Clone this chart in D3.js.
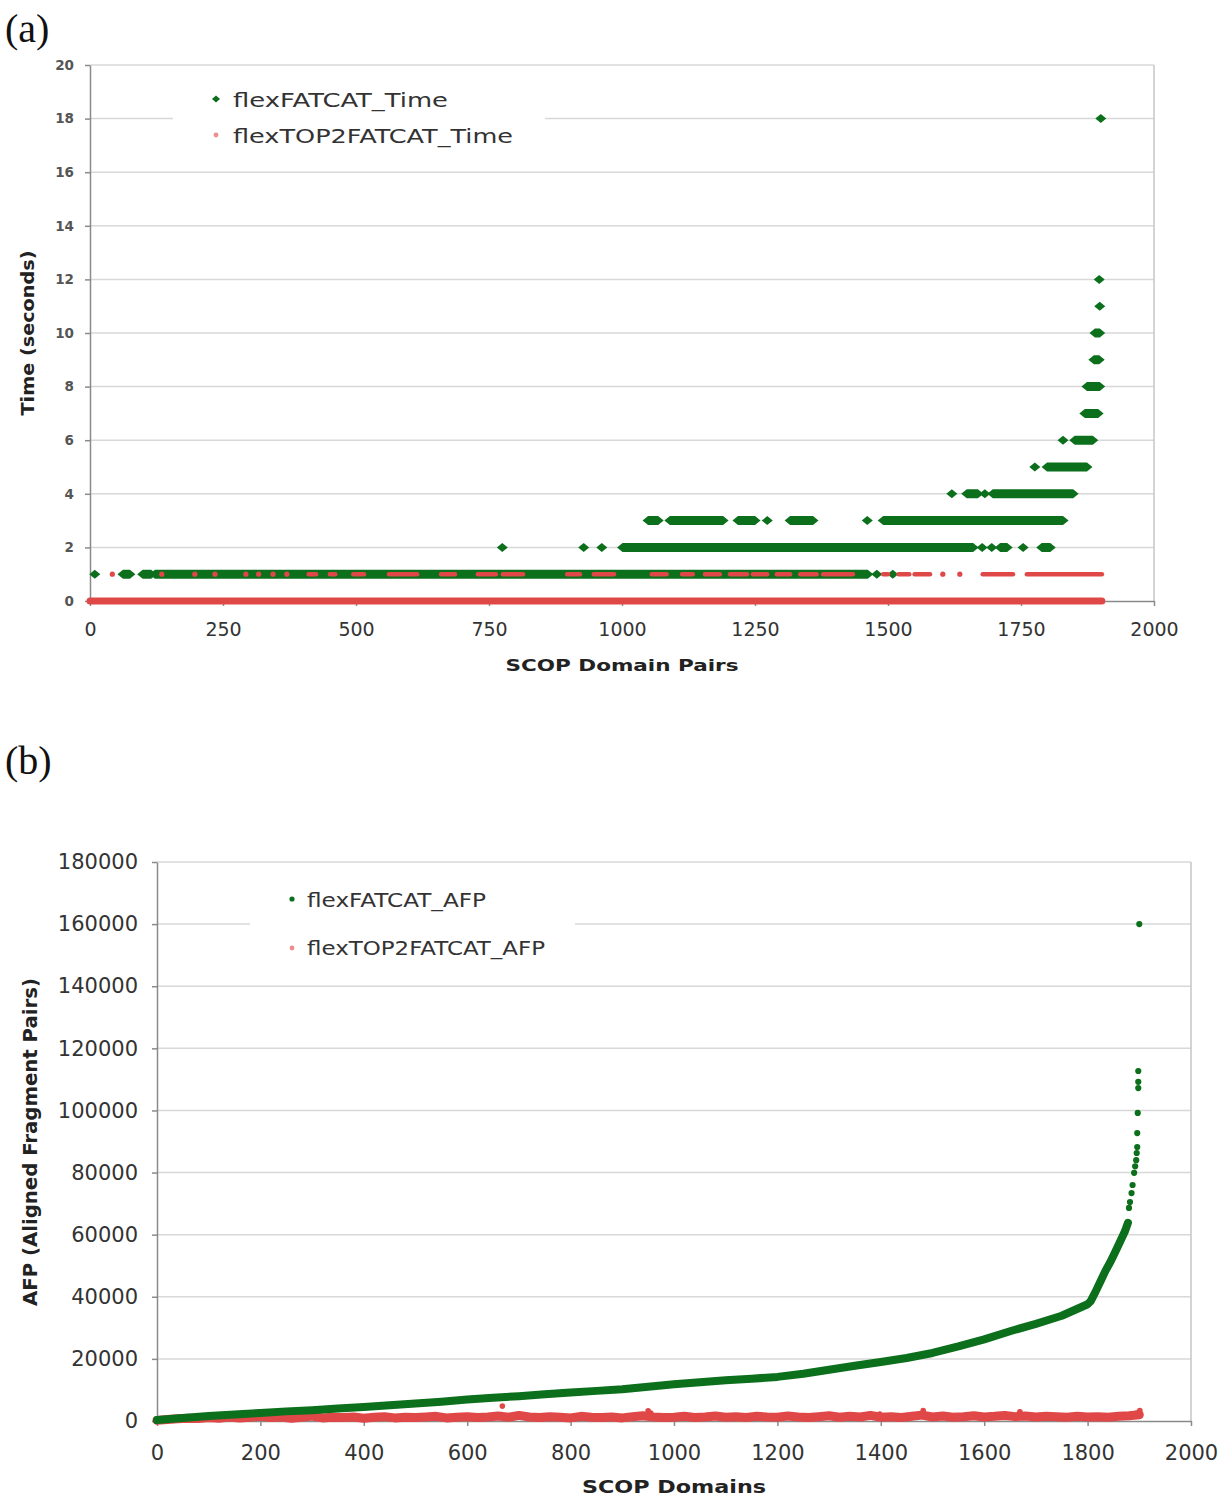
<!DOCTYPE html>
<html><head><meta charset="utf-8">
<script src="https://cdn.jsdelivr.net/npm/d3@7"></script>
<style>body{margin:0;background:#fff} svg{display:block}</style>
</head><body><svg id="c" width="1224" height="1498"></svg>
<script>
// ---------------- DATA ----------------
// Panel (a): run time per SCOP domain pair, stored as runs [seconds, firstPair, lastPair]
const timeTicksX = [0, 250, 500, 750, 1000, 1250, 1500, 1750, 2000];
const timeTicksY = [0, 2, 4, 6, 8, 10, 12, 14, 16, 18, 20];
const timeSeries = ["flexFATCAT_Time", "flexTOP2FATCAT_Time"];
const flexFatcatTimeRuns = [
  [1, 9, 9], [1, 62, 75], [1, 99, 115], [1, 122, 1462], [1, 1479, 1479], [1, 1509, 1509],
  [2, 775, 775], [2, 928, 928], [2, 962, 962], [2, 1001, 1660], [2, 1677, 1677], [2, 1695, 1695],
  [2, 1711, 1724], [2, 1754, 1754], [2, 1789, 1805],
  [3, 1049, 1068], [3, 1090, 1190], [3, 1218, 1250], [3, 1273, 1273], [3, 1316, 1359], [3, 1461, 1461], [3, 1491, 1829],
  [4, 1620, 1620], [4, 1648, 1669], [4, 1682, 1682], [4, 1697, 1848],
  [5, 1776, 1776], [5, 1799, 1874],
  [6, 1829, 1829], [6, 1851, 1885],
  [7, 1870, 1895], [8, 1874, 1898], [9, 1887, 1897], [10, 1889, 1898],
  [11, 1898, 1898], [12, 1897, 1897], [18, 1900, 1900]
];
const flexTop2TimeRuns = [
  [0, 0, 1902],
  [1, 42, 42], [1, 135, 135], [1, 197, 197], [1, 235, 235], [1, 293, 293], [1, 317, 317], [1, 344, 344],
  [1, 370, 370], [1, 411, 425], [1, 451, 461], [1, 495, 515], [1, 562, 615], [1, 660, 686], [1, 729, 763],
  [1, 776, 814], [1, 897, 921], [1, 947, 985], [1, 1056, 1084], [1, 1113, 1133], [1, 1156, 1184],
  [1, 1203, 1235], [1, 1246, 1273], [1, 1291, 1316], [1, 1335, 1366], [1, 1378, 1434], [1, 1491, 1500],
  [1, 1520, 1540], [1, 1550, 1579], [1, 1603, 1603], [1, 1635, 1635], [1, 1678, 1735], [1, 1761, 1902]
];

// Panel (b): AFP per SCOP domain
const afpTicksX = [0, 200, 400, 600, 800, 1000, 1200, 1400, 1600, 1800, 2000];
const afpTicksY = [0, 20000, 40000, 60000, 80000, 100000, 120000, 140000, 160000, 180000];
const afpSeries = ["flexFATCAT_AFP", "flexTOP2FATCAT_AFP"];
const flexFatcatAfpX = [0, 50, 100, 150, 200, 250, 300, 350, 400, 450, 500, 550, 600, 650, 700, 750, 800, 850, 900, 950,
  1000, 1050, 1100, 1150, 1200, 1250, 1300, 1350, 1400, 1450, 1500, 1550, 1600, 1650, 1700, 1750, 1800,
  1806, 1815, 1825, 1835, 1845, 1855, 1865, 1872, 1878];
const flexFatcatAfpY = [300, 1000, 1600, 2100, 2600, 3100, 3500, 4000, 4500, 5100, 5600, 6200, 6900, 7500, 8000, 8600, 9200, 9700, 10200, 11000,
  11800, 12500, 13100, 13600, 14200, 15200, 16500, 17800, 19000, 20300, 21900, 24000, 26300, 28900, 31300, 33900, 37600,
  38600, 41500, 45000, 48500, 51500, 55000, 58500, 61000, 63800];
const flexFatcatAfpTopX = [1880, 1882, 1885, 1887, 1890, 1892, 1894, 1895, 1896, 1896, 1897, 1898, 1898, 1898, 1900];
const flexFatcatAfpTopY = [68600, 70500, 73400, 76000, 79900, 82000, 84000, 86300, 88200, 92700, 99200, 107200, 109200, 112700, 160000];
const flexTop2AfpX = [0, 20, 40, 60, 80, 100, 120, 140, 160, 180, 200, 220, 240, 260, 280, 300, 320, 340, 360, 380,
  400, 420, 440, 460, 480, 500, 520, 540, 560, 580, 600, 620, 640, 660, 680, 700, 720, 740, 760, 780,
  800, 820, 840, 860, 880, 900, 920, 940, 960, 980, 1000, 1020, 1040, 1060, 1080, 1100, 1120, 1140, 1160, 1180,
  1200, 1220, 1240, 1260, 1280, 1300, 1320, 1340, 1360, 1380, 1400, 1420, 1440, 1460, 1480, 1500, 1520, 1540, 1560, 1580,
  1600, 1620, 1640, 1660, 1680, 1700, 1720, 1740, 1760, 1780, 1800, 1820, 1840, 1860, 1880, 1900];
const flexTop2AfpY = [200, 500, 700, 900, 800, 1100, 900, 1300, 1000, 1200, 1500, 1100, 1300, 900, 1200, 1600, 1000, 1200, 1100, 1300,
  900, 1200, 1400, 1000, 1200, 1100, 1300, 1500, 1000, 1200, 1400, 1100, 1300, 1600, 1200, 1800, 1300, 1100, 1400, 1200,
  1000, 1500, 1200, 1100, 1300, 1000, 1400, 1700, 1300, 1100, 1200, 1500, 1100, 1300, 1600, 1200, 1400, 1100, 1500, 1300,
  1200, 1600, 1300, 1100, 1400, 1700, 1200, 1500, 1300, 1800, 1200, 1400, 1100, 1500, 1900, 1300, 1600, 1200, 1400, 1700,
  1300, 1500, 1800, 1400, 1600, 1300, 1500, 1400, 1200, 1500, 1300, 1400, 1200, 1500, 1700, 2000];
const flexTop2AfpOutX = [197, 222, 294, 668, 704, 950, 955, 1398, 1482, 1669, 1895, 1901];
const flexTop2AfpOutY = [1900, 2200, 2300, 4800, 2100, 3300, 2600, 2200, 3400, 3000, 2600, 3400];

// ---------------- STYLE ----------------
const GREEN = "#0b6f1c", RED = "#e04848", PINK = "#f08c8c";
const GRID = "#d8d8d8", AXIS = "#8a8a8a", BORDER = "#c6c6c6";
const FONT = "DejaVu Sans";
const svg = d3.select("#c");

function styleAxis(g, size, weight, fill) {
  g.attr("font-family", FONT).attr("font-size", size);
  g.select(".domain").attr("stroke", AXIS).attr("stroke-width", 1.5);
  g.selectAll(".tick line").attr("stroke", AXIS).attr("stroke-width", 1.5);
  g.selectAll(".tick text").attr("font-weight", weight).attr("fill", fill);
}
function hexRun(x0, x1, y, hw, hh) {
  return `M${x0 - hw},${y}L${x0},${y - hh}L${x1},${y - hh}L${x1 + hw},${y}L${x1},${y + hh}L${x0},${y + hh}Z`;
}

// ---------------- PANEL (a) ----------------
const xa = d3.scaleLinear().domain([0, 2000]).range([90, 1154]);
const ya = d3.scaleLinear().domain([0, 20]).range([601, 65]);
const ga = svg.append("g");
ga.append("text").attr("x", 5).attr("y", 42).attr("font-family", "Liberation Serif")
  .attr("font-size", 40).attr("fill", "#111").text("(a)");
ga.selectAll("line.grid").data(timeTicksY.filter(d => d > 0)).join("line")
  .attr("x1", xa(0)).attr("x2", xa(2000)).attr("y1", d => ya(d)).attr("y2", d => ya(d))
  .attr("stroke", GRID).attr("stroke-width", 1.5);
ga.append("line").attr("x1", xa(2000)).attr("x2", xa(2000)).attr("y1", ya(20)).attr("y2", ya(0))
  .attr("stroke", BORDER).attr("stroke-width", 1.5);
// legend background
ga.append("rect").attr("x", 173).attr("y", 82).attr("width", 372).attr("height", 70).attr("fill", "#fff");

const axA_y = ga.append("g").attr("transform", `translate(${xa(0)},0)`)
  .call(d3.axisLeft(ya).tickValues(timeTicksY).tickSize(5).tickSizeOuter(0).tickPadding(11));
styleAxis(axA_y, 13.5, "bold", "#555");
const axA_x = ga.append("g").attr("transform", `translate(0,${ya(0)})`)
  .call(d3.axisBottom(xa).tickValues(timeTicksX).tickFormat(d3.format("d")).tickSize(5).tickSizeOuter(0).tickPadding(17));
styleAxis(axA_x, 19, "normal", "#333");

// green runs
ga.selectAll("path.g").data(flexFatcatTimeRuns).join("path")
  .attr("d", d => hexRun(xa(d[1]), xa(d[2]), ya(d[0]), 5.5, 4.5)).attr("fill", GREEN);
// red runs
ga.selectAll("line.r").data(flexTop2TimeRuns.filter(d => d[1] !== d[2])).join("line")
  .attr("x1", d => xa(d[1])).attr("x2", d => xa(d[2])).attr("y1", d => ya(d[0])).attr("y2", d => ya(d[0]))
  .attr("stroke", RED).attr("stroke-linecap", "round").attr("stroke-width", d => d[0] === 0 ? 7 : 4.5);
ga.selectAll("circle.r").data(flexTop2TimeRuns.filter(d => d[1] === d[2])).join("circle")
  .attr("cx", d => xa(d[1])).attr("cy", d => ya(d[0])).attr("r", 2.6).attr("fill", RED);

// legend
ga.append("path").attr("d", "M212,99L216,95.5L220,99L216,102.5Z").attr("fill", GREEN);
ga.append("circle").attr("cx", 216).attr("cy", 135).attr("r", 2.4).attr("fill", PINK);
ga.selectAll("text.leg").data(timeSeries).join("text")
  .attr("x", 233).attr("y", (d, i) => 107 + i * 36).attr("font-family", FONT).attr("font-size", 19)
  .attr("fill", "#333").attr("textLength", (d, i) => i ? 280 : 215).attr("lengthAdjust", "spacingAndGlyphs").text(d => d);

// titles
ga.append("text").attr("transform", "translate(28,333) rotate(-90)").attr("text-anchor", "middle")
  .attr("dy", "0.35em").attr("font-family", FONT).attr("font-weight", "bold").attr("font-size", 17)
  .attr("fill", "#222").attr("textLength", 165).attr("lengthAdjust", "spacingAndGlyphs").text("Time (seconds)");
ga.append("text").attr("x", 622).attr("y", 671).attr("text-anchor", "middle")
  .attr("font-family", FONT).attr("font-weight", "bold").attr("font-size", 16)
  .attr("fill", "#222").attr("textLength", 233).attr("lengthAdjust", "spacingAndGlyphs").text("SCOP Domain Pairs");

// ---------------- PANEL (b) ----------------
const xb = d3.scaleLinear().domain([0, 2000]).range([157, 1191]);
const yb = d3.scaleLinear().domain([0, 180000]).range([1421, 862]);
const gb = svg.append("g");
gb.append("text").attr("x", 5).attr("y", 774).attr("font-family", "Liberation Serif")
  .attr("font-size", 40).attr("fill", "#111").text("(b)");
gb.selectAll("line.grid").data(afpTicksY.filter(d => d > 0)).join("line")
  .attr("x1", xb(0)).attr("x2", xb(2000)).attr("y1", d => yb(d)).attr("y2", d => yb(d))
  .attr("stroke", GRID).attr("stroke-width", 1.5);
gb.append("line").attr("x1", xb(2000)).attr("x2", xb(2000)).attr("y1", yb(180000)).attr("y2", yb(0))
  .attr("stroke", BORDER).attr("stroke-width", 1.5);
gb.append("rect").attr("x", 250).attr("y", 876).attr("width", 325).attr("height", 96).attr("fill", "#fff");

const axB_y = gb.append("g").attr("transform", `translate(${xb(0)},0)`)
  .call(d3.axisLeft(yb).tickValues(afpTicksY).tickFormat(d3.format("d")).tickSize(5).tickSizeOuter(0).tickPadding(14));
styleAxis(axB_y, 21, "normal", "#333");
const axB_x = gb.append("g").attr("transform", `translate(0,${yb(0)})`)
  .call(d3.axisBottom(xb).tickValues(afpTicksX).tickFormat(d3.format("d")).tickSize(5).tickSizeOuter(0).tickPadding(19));
styleAxis(axB_x, 21, "normal", "#333");

// red band
const redPts = flexTop2AfpX.map((x, i) => [x, flexTop2AfpY[i]]);
gb.append("path").attr("d", d3.line().x(d => xb(d[0])).y(d => yb(d[1]))(redPts))
  .attr("fill", "none").attr("stroke", RED).attr("stroke-width", 9).attr("stroke-linejoin", "round").attr("stroke-linecap", "round");
gb.selectAll("circle.ro").data(flexTop2AfpOutX.map((x, i) => [x, flexTop2AfpOutY[i]])).join("circle")
  .attr("cx", d => xb(d[0])).attr("cy", d => yb(d[1])).attr("r", 2.8).attr("fill", RED);

// green curve
const greenPts = flexFatcatAfpX.map((x, i) => [x, flexFatcatAfpY[i]]);
gb.append("path").attr("d", d3.line().x(d => xb(d[0])).y(d => yb(d[1]))(greenPts))
  .attr("fill", "none").attr("stroke", GREEN).attr("stroke-width", 8).attr("stroke-linejoin", "round").attr("stroke-linecap", "round");
gb.selectAll("circle.gt").data(flexFatcatAfpTopX.map((x, i) => [x, flexFatcatAfpTopY[i]])).join("circle")
  .attr("cx", d => xb(d[0])).attr("cy", d => yb(d[1])).attr("r", 3.1).attr("fill", GREEN);

// legend
gb.append("circle").attr("cx", 292).attr("cy", 899).attr("r", 2.6).attr("fill", GREEN);
gb.append("circle").attr("cx", 292).attr("cy", 948).attr("r", 2.4).attr("fill", PINK);
gb.selectAll("text.leg").data(afpSeries).join("text")
  .attr("x", 307).attr("y", (d, i) => 907 + i * 48).attr("font-family", FONT).attr("font-size", 19)
  .attr("fill", "#333").attr("textLength", (d, i) => i ? 238 : 179).attr("lengthAdjust", "spacingAndGlyphs").text(d => d);

// titles
gb.append("text").attr("transform", "translate(30,1142) rotate(-90)").attr("text-anchor", "middle")
  .attr("dy", "0.35em").attr("font-family", FONT).attr("font-weight", "bold").attr("font-size", 19)
  .attr("fill", "#222").attr("textLength", 328).attr("lengthAdjust", "spacingAndGlyphs").text("AFP (Aligned Fragment Pairs)");
gb.append("text").attr("x", 674).attr("y", 1493).attr("text-anchor", "middle")
  .attr("font-family", FONT).attr("font-weight", "bold").attr("font-size", 17)
  .attr("fill", "#222").attr("textLength", 184).attr("lengthAdjust", "spacingAndGlyphs").text("SCOP Domains");
</script>
</body></html>
